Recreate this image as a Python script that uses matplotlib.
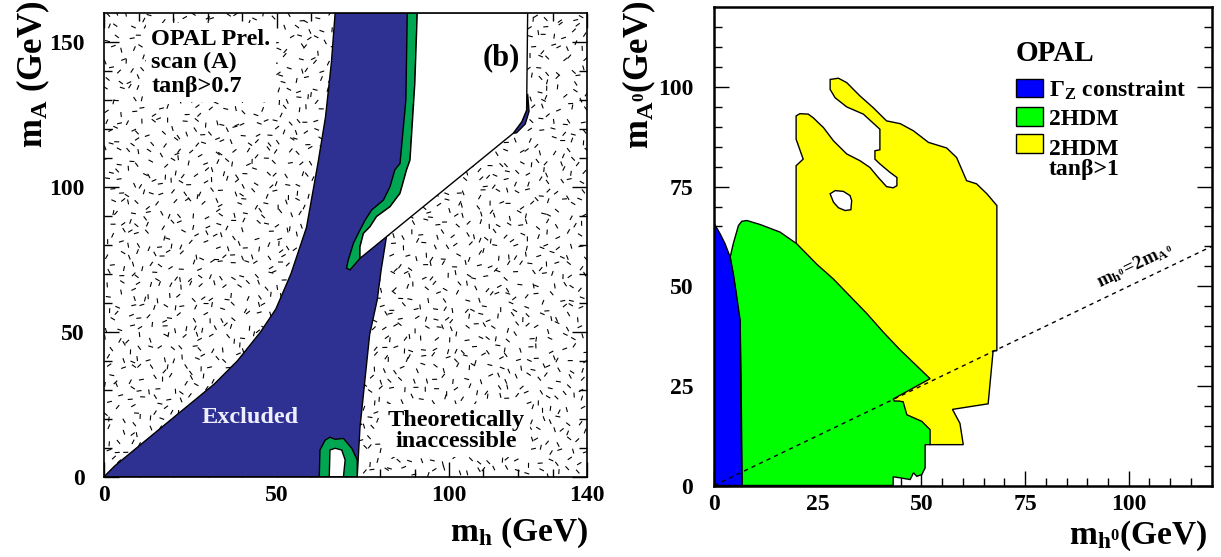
import numpy as np
import matplotlib
matplotlib.use("Agg")
import matplotlib.pyplot as plt
from matplotlib.patches import Polygon, Rectangle
from matplotlib.collections import LineCollection

plt.rcParams["font.family"] = "Liberation Serif"
plt.rcParams["font.weight"] = "bold"
plt.rcParams["mathtext.fontset"] = "custom"
plt.rcParams["mathtext.rm"] = "Liberation Serif:bold"
plt.rcParams["mathtext.it"] = "Liberation Serif:bold"
plt.rcParams["mathtext.bf"] = "Liberation Serif:bold"

# ---- left panel (b): contours in (m_h, m_A), GeV ----
excl_left_x = [0, 3.1, 32, 38.7, 45.3, 49.8, 54.2, 58.7, 62, 64.2, 65.9, 67]
excl_left_y = [0, 3.7, 32, 40, 49.8, 57.8, 70, 86, 108, 124, 142.7, 160]
excl_right_x = [88.5, 88, 86.5, 84, 82.5, 81.9, 80.3, 79.2, 77, 74.2, 73.4]
excl_right_y = [160, 130, 108, 100, 90, 83, 71, 61, 49, 17, 0]

strip_outer_x = [87.9, 87.5, 85.8, 84.3, 82.9, 81.0, 77.6, 75.7, 73.7, 72.3, 70.8, 70.3, 71.3]
strip_outer_y = [160, 129.9, 108, 105.8, 100, 95.4, 92, 88.5, 83.9, 80.5, 74.7, 71.9, 71.3]
inner_edge_x = [74.2, 74.2, 75.2, 77.1, 79.0, 82.9, 85.8, 87.7, 88.7, 90.1, 90.8]
inner_edge_y = [75.3, 79.3, 83.9, 86.2, 89.7, 93.1, 97.7, 105.8, 109.2, 135.6, 160]
allowed_low_x = [118.6, 121.1, 122.5, 122.8]
allowed_low_y = [118.4, 122.4, 126.4, 160]
sliver_x = [118.6, 121.1, 122.5, 122.8, 123.2, 122.1, 119.6]
sliver_y = [118.4, 122.4, 126.4, 132, 126, 121.6, 118.6]

loop_outer_x = [62.4, 62.6, 64.1, 65.5, 67.0, 69.4, 71.8, 73.4, 73.4]
loop_outer_y = [0, 9.2, 12.6, 13.6, 12.9, 13.2, 9.8, 5.8, 0]
loop_inner_x = [65.3, 65.5, 67.0, 68.9, 69.9, 69.4]
loop_inner_y = [0, 9.2, 9.8, 9.2, 5.8, 0]

# ---- right panel: regions in (m_h0, m_A0), GeV ----
gz_x = [0, 0, 1.45, 2.65, 3.9, 4.65, 5.5, 6.3, 6.4, 6.7]
gz_y = [0, 65.8, 63.2, 60.7, 57.3, 53.2, 47.3, 41.5, 28.2, 0]

hdm_x = [6.8, 6.5, 6.3, 5.9, 5.1, 4.3, 3.9, 4.65, 5.9, 6.7, 7.9, 11.1, 15.9, 19.9,
         24.8, 28.8, 32.8, 36.8, 40.8, 44.9, 48.9, 52.1, 43.2, 43.5, 44.6, 45.6,
         46.5, 50.1, 52.1, 52.1, 50.9, 50.9, 50.1, 48.9, 48.1, 47.3, 43.2, 43.2]
hdm_y = [0, 28.2, 41.5, 42.3, 49.8, 54.8, 57.3, 60.7, 65.25, 66.3, 66.5, 65.5, 63.6, 60.7,
         55.5, 51.8, 47.5, 43.2, 38.5, 34.0, 30.0, 26.8, 21.7, 21.2, 21.2, 21.0,
         17.75, 16.1, 14.0, 10.25, 10.25, 4.4, 2.75, 2.3, 3.2, 1.5, 2.2, 0]

tb_x = [19.8, 19.8, 21.5, 19.8, 19.8, 20.7, 22.7, 23.9, 26.4, 28.8, 32.0, 35.2, 37.6,
        39.6, 41.6, 43.2, 44.1, 44.1, 42.4, 40.0, 38.8, 38.8, 40.0, 40.0, 36.0, 32.0,
        29.2, 28.0, 28.0, 30.0, 32.0, 35.2, 38.4, 41.6, 44.9, 48.1, 51.7, 56.1, 58.5,
        60.9, 63.3, 65.8, 68.2, 68.2, 67.3, 66.1, 58.1, 57.5, 59.3, 60.1, 52.1, 45.0]
tb_y = [60.7, 80.25, 81.9, 86.9, 92.75, 93.3, 93.2, 92.3, 89.8, 86.5, 83.2, 81.5, 79.8,
        77.3, 75.0, 74.7, 75.25, 77.3, 78.6, 80.7, 81.9, 84.0, 84.25, 89.4, 93.2, 95.0,
        97.3, 99.4, 101.9, 102.2, 101.1, 97.75, 94.8, 91.5, 90.8, 89.0, 86.1, 84.7, 82.3,
        76.5, 75.7, 73.2, 70.25, 33.8, 33.8, 20.5, 19.2, 19.1, 15.6, 10.25, 10.25, 18.0]
hole_x = [28.0, 29.2, 31.2, 32.8, 33.2, 33.0, 31.6, 30.0, 28.8]
hole_y = [73.2, 74.0, 73.8, 72.75, 71.5, 69.2, 69.0, 69.7, 71.1]

diag_x = [0, 120]
diag_y = [0, 60]

BLUE_L, GREEN_L = "#2e3192", "#00a651"
BLUE_R, GREEN_R, YELLOW_R = "#0000ff", "#00ff00", "#ffff00"


def poly(ax, xs, ys, fc, z, lw=1.0):
    ax.add_patch(Polygon(np.column_stack([xs, ys]), closed=True, facecolor=fc,
                         edgecolor="black", linewidth=lw, zorder=z))


def hashv(i, j, k):
    v = np.sin(i * 12.9898 + j * 78.233 + k * 37.719) * 43758.5453
    return v - np.floor(v)


def stipple(ax, w_px, h_px, step=10.3, length=5.0):
    # decorative dash texture of the "theoretically inaccessible" area
    nx, ny = int(w_px / step), int(h_px / step)
    ii, jj = np.meshgrid(np.arange(nx), np.arange(ny))
    ii, jj = ii.ravel(), jj.ravel()
    px = (ii + 0.5 + 0.9 * (hashv(ii, jj, 1) - 0.5)) * w_px / nx
    py = (jj + 0.5 + 0.9 * (hashv(ii, jj, 2) - 0.5)) * h_px / ny
    ang = hashv(ii, jj, 3) * np.pi
    dx, dy = 0.5 * length * np.cos(ang), 0.5 * length * np.sin(ang)
    segs = np.stack([np.column_stack([(px - dx) / w_px, (py - dy) / h_px]),
                     np.column_stack([(px + dx) / w_px, (py + dy) / h_px])], axis=1)
    ax.add_collection(LineCollection(segs, colors="black", linewidths=0.8,
                                     transform=ax.transAxes, zorder=1))


def style_axes(ax, lw, top=True):
    for s in ax.spines.values():
        s.set_linewidth(lw)
        s.set_zorder(10)
    ax.tick_params(which="both", direction="in", top=top, right=True, width=1.0,
                   labelsize=17, zorder=10)
    ax.tick_params(which="major", length=11)
    ax.tick_params(which="minor", length=5.5)
    ax.tick_params(axis="x", pad=6)


fig = plt.figure(figsize=(12.21, 5.57), dpi=100)

# ---------------- left panel ----------------
ax1 = fig.add_axes([104 / 1221, (557 - 476.7) / 557, 483 / 1221, 464 / 557])
ax1.set_xlim(0, 140)
ax1.set_ylim(0, 160)
stipple(ax1, 483, 464)

poly(ax1, sliver_x, sliver_y, BLUE_L, 2)
poly(ax1, excl_left_x + excl_right_x, excl_left_y + excl_right_y, BLUE_L, 3)
poly(ax1, strip_outer_x + inner_edge_x, strip_outer_y + inner_edge_y, GREEN_L, 4)
poly(ax1, inner_edge_x[::-1] + allowed_low_x, inner_edge_y[::-1] + allowed_low_y, "white", 5)
poly(ax1, loop_outer_x, loop_outer_y, GREEN_L, 4)
poly(ax1, loop_inner_x, loop_inner_y, "white", 5)

ax1.set_xticks([0, 50, 100, 140])
ax1.set_xticks(np.arange(10, 140, 10), minor=True)
ax1.set_yticks([0, 50, 100, 150])
ax1.set_yticks(np.arange(10, 160, 10), minor=True)
style_axes(ax1, 1.2)
ax1.tick_params(axis="y", pad=14)

for t in ax1.xaxis.get_major_ticks() + ax1.xaxis.get_minor_ticks():
    loc = t.get_loc()
    if 0 < loc < 62:
        t.tick1line.set_color("white")
    if 67 < loc < 88:
        t.tick2line.set_color("white")

box = dict(facecolor="white", edgecolor="none", pad=4)
ax1.text(13.7, 154.5, "OPAL Prel.\nscan (A)\ntanβ>0.7", fontsize=17.5, ha="left",
         va="top", linespacing=1.15, bbox=box, zorder=6)
ax1.text(115.3, 144.5, "(b)", fontsize=22, ha="center", va="center", zorder=6)
ax1.text(42.3, 18.4, "Excluded", fontsize=17.5, color="#eeeeff", ha="center",
         va="baseline", zorder=6)
ax1.text(102, 10.4, "Theoretically\ninaccessible", fontsize=17.5, ha="center",
         va="baseline", linespacing=1.0, bbox=box, zorder=6)

fig.text(33 / 1221, 1 - 1 / 557, r"$\mathrm{m_A}$ (GeV)", fontsize=25, rotation=90,
         ha="center", va="top")
fig.text(588 / 1221, 1 - 550 / 557, r"$\mathrm{m_h}$ (GeV)", fontsize=24,
         ha="right", va="bottom")

# ---------------- right panel ----------------
ax2 = fig.add_axes([714 / 1221, (557 - 485.5) / 557, 497.7 / 1221, 478.2 / 557])
ax2.set_xlim(0, 120)
ax2.set_ylim(0, 120)

poly(ax2, tb_x, tb_y, YELLOW_R, 2)
poly(ax2, hole_x, hole_y, "white", 3)
poly(ax2, hdm_x, hdm_y, GREEN_R, 3)
poly(ax2, gz_x, gz_y, BLUE_R, 4)
ax2.plot(diag_x, diag_y, color="black", lw=1.0, ls=(0, (3, 3)), zorder=5)
ax2.text(93, 49.6, r"$m_{h^0}\!=\!2m_{A^0}$", fontsize=13.5, rotation=26.57,
         transform_rotates_text=True, rotation_mode="anchor", ha="left",
         va="baseline", zorder=6)

ax2.set_xticks([0, 25, 50, 75, 100])
ax2.set_xticks(np.arange(5, 120, 5), minor=True)
ax2.set_yticks([0, 25, 50, 75, 100])
ax2.set_yticks(np.arange(5, 120, 5), minor=True)
style_axes(ax2, 1.8, top=False)
ax2.tick_params(axis="y", pad=15)

for t in ax2.yaxis.get_major_ticks() + ax2.yaxis.get_minor_ticks():
    if 0 < t.get_loc() < 64:
        t.tick1line.set_color("white")
for t in ax2.xaxis.get_major_ticks() + ax2.xaxis.get_minor_ticks():
    if 0 < t.get_loc() < 6.5:
        t.tick1line.set_color("white")

ax2.text(72.7, 106.4, "OPAL", fontsize=21, ha="left", va="baseline")
keys = [(97.4, 97.5, BLUE_R, r"$\Gamma_{Z}$ constraint"),
        (90.3, 90.4, GREEN_R, "2HDM"),
        (83.4, 78.0, YELLOW_R, "2HDM\ntanβ>1")]
for y0, yb, c, lab in keys:
    ax2.add_patch(Rectangle((72.9, y0), 6.5, 4.7, facecolor=c, edgecolor="black",
                            linewidth=1.0, zorder=6))
    ax2.text(80.7, yb, lab, fontsize=17, ha="left", va="baseline",
             linespacing=0.92, zorder=6)

fig.text(639 / 1221, 1 - 1 / 557, r"$\mathrm{m_{A^0}}$(GeV)", fontsize=25, rotation=90,
         ha="center", va="top")
fig.text(1208 / 1221, 1 - 553 / 557, r"$\mathrm{m_{h^0}}$(GeV)", fontsize=24,
         ha="right", va="bottom")

fig.savefig("out.png", dpi=100)
